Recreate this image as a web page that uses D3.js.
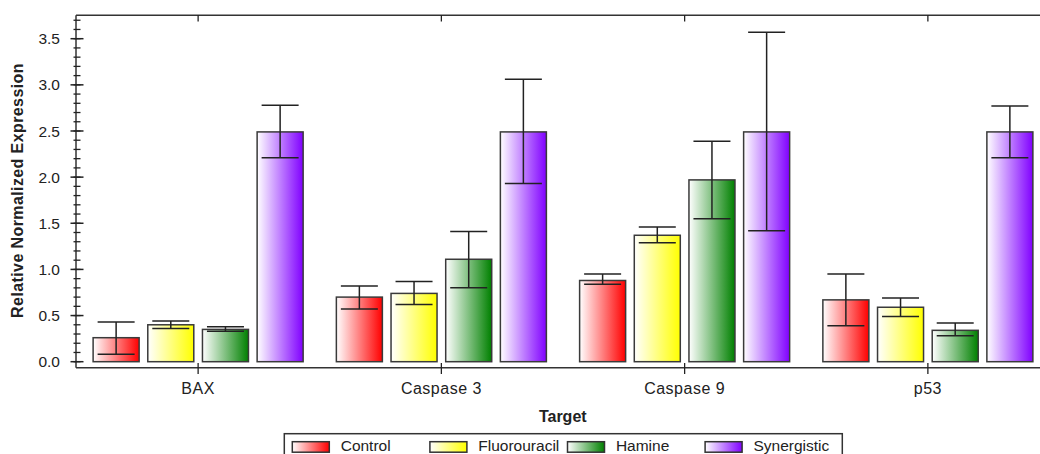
<!DOCTYPE html>
<html>
<head>
<meta charset="utf-8">
<script src="https://cdn.jsdelivr.net/npm/d3@7"></script>
<style>
  body { margin: 0; background: #fff; }
  svg { display: block; }
  text { font-family: Arial, "Liberation Sans", sans-serif; fill: #222; }
</style>
</head>
<body>
<svg id="chart" width="1040" height="454"></svg>
<script>
// Relative normalized expression per target gene and treatment
const targets = ["BAX", "Caspase 3", "Caspase 9", "p53"];
const treatments = ["Control", "Fluorouracil", "Hamine", "Synergistic"];
const seriesColors = ["#ff0000", "#ffff00", "#008000", "#8000ff"];

// Mean expression per target (same order as targets)
const controlValues      = [0.26, 0.70, 0.88, 0.67];
const fluorouracilValues = [0.40, 0.74, 1.37, 0.59];
const hamineValues       = [0.35, 1.11, 1.97, 0.34];
const synergisticValues  = [2.49, 2.49, 2.49, 2.49];

// Error bar upper ends
const controlUpper      = [0.43, 0.82, 0.95, 0.95];
const fluorouracilUpper = [0.44, 0.87, 1.46, 0.69];
const hamineUpper       = [0.38, 1.41, 2.39, 0.42];
const synergisticUpper  = [2.78, 3.06, 3.57, 2.77];

// Error bar lower ends
const controlLower      = [0.08, 0.57, 0.84, 0.39];
const fluorouracilLower = [0.36, 0.62, 1.29, 0.49];
const hamineLower       = [0.33, 0.80, 1.55, 0.28];
const synergisticLower  = [2.21, 1.93, 1.42, 2.21];

const yMajorTicks = [0, 0.5, 1.0, 1.5, 2.0, 2.5, 3.0, 3.5];
const yMinorTicks = d3.range(0, 38).map(i => i / 10);

const meanSeries  = [controlValues, fluorouracilValues, hamineValues, synergisticValues];
const upperSeries = [controlUpper, fluorouracilUpper, hamineUpper, synergisticUpper];
const lowerSeries = [controlLower, fluorouracilLower, hamineLower, synergisticLower];

const records = [];
targets.forEach((t, ti) => {
  treatments.forEach((s, si) => {
    records.push({
      target: t, treatment: s, si,
      value: meanSeries[si][ti],
      upper: upperSeries[si][ti],
      lower: lowerSeries[si][ti]
    });
  });
});

const svg = d3.select("#chart");

// Plot frame
const frame = { left: 76, top: 15.3, right: 1049.5, bottom: 367.7 };

const x0 = d3.scaleBand().domain(targets).range([76.5, 1049.5]).padding(0);
const x1 = d3.scaleBand().domain(treatments)
  .range([0, x0.bandwidth()])
  .paddingInner(0.1585)
  .paddingOuter(0.304);
const y = d3.scaleLinear().domain([0, 3.5]).range([361.7, 38.7]);

// Horizontal gradients (white to full colour) for each treatment
const defs = svg.append("defs");
treatments.forEach((s, i) => {
  const g = defs.append("linearGradient")
    .attr("id", "grad" + i)
    .attr("x1", "0%").attr("x2", "100%").attr("y1", "0%").attr("y2", "0%");
  g.append("stop").attr("offset", "0%").attr("stop-color", "#ffffff");
  g.append("stop").attr("offset", "100%").attr("stop-color", seriesColors[i]);
});

// Frame lines: left axis, top edge, bottom axis
const frameColor = "#333";
svg.append("line")
  .attr("x1", frame.left).attr("x2", frame.left)
  .attr("y1", frame.top).attr("y2", frame.bottom)
  .attr("stroke", frameColor).attr("stroke-width", 1.5);
svg.append("line")
  .attr("x1", frame.left).attr("x2", frame.right)
  .attr("y1", frame.top).attr("y2", frame.top)
  .attr("stroke", frameColor).attr("stroke-width", 1.5);
svg.append("line")
  .attr("x1", frame.left).attr("x2", frame.right)
  .attr("y1", frame.bottom).attr("y2", frame.bottom)
  .attr("stroke", frameColor).attr("stroke-width", 1.5);

// Y axis ticks crossing the axis line
const yAxisG = svg.append("g");
yAxisG.selectAll("line.minor")
  .data(yMinorTicks)
  .join("line")
  .attr("class", "minor")
  .attr("x1", 73.5).attr("x2", 80.5)
  .attr("y1", d => y(d)).attr("y2", d => y(d))
  .attr("stroke", "#222").attr("stroke-width", 1.3);
yAxisG.selectAll("line.major")
  .data(yMajorTicks)
  .join("line")
  .attr("class", "major")
  .attr("x1", 70.5).attr("x2", 83.5)
  .attr("y1", d => y(d)).attr("y2", d => y(d))
  .attr("stroke", "#222").attr("stroke-width", 1.5);
yAxisG.selectAll("text")
  .data(yMajorTicks)
  .join("text")
  .attr("x", 60)
  .attr("y", d => y(d))
  .attr("dy", "0.36em")
  .attr("text-anchor", "end")
  .attr("font-size", 15.5)
  .text(d3.format(".1f"));

// X axis ticks at category centres (bottom and top edges)
const xAxisG = svg.append("g");
xAxisG.selectAll("line.bottom")
  .data(targets)
  .join("line")
  .attr("class", "bottom")
  .attr("x1", d => x0(d) + x0.bandwidth() / 2)
  .attr("x2", d => x0(d) + x0.bandwidth() / 2)
  .attr("y1", 363).attr("y2", 374)
  .attr("stroke", "#222").attr("stroke-width", 1.3);
xAxisG.selectAll("line.top")
  .data(targets)
  .join("line")
  .attr("class", "top")
  .attr("x1", d => x0(d) + x0.bandwidth() / 2)
  .attr("x2", d => x0(d) + x0.bandwidth() / 2)
  .attr("y1", 15).attr("y2", 21.5)
  .attr("stroke", "#222").attr("stroke-width", 1.3);
xAxisG.selectAll("text")
  .data(targets)
  .join("text")
  .attr("x", d => x0(d) + x0.bandwidth() / 2)
  .attr("y", 394.3)
  .attr("text-anchor", "middle")
  .attr("font-size", 16)
  .attr("letter-spacing", 0.5)
  .text(d => d);

// Bars
const barsG = svg.append("g");
barsG.selectAll("rect")
  .data(records)
  .join("rect")
  .attr("x", d => x0(d.target) + x1(d.treatment))
  .attr("y", d => y(d.value))
  .attr("width", x1.bandwidth())
  .attr("height", d => y(0) - y(d.value))
  .attr("fill", d => `url(#grad${d.si})`)
  .attr("stroke", "#3a3a3a")
  .attr("stroke-width", 1.5);

// Error bars
const capHalf = 18.5;
const errG = svg.append("g")
  .attr("stroke", "#222").attr("stroke-width", 1.5);
const eb = errG.selectAll("g")
  .data(records)
  .join("g")
  .attr("transform", d => `translate(${x0(d.target) + x1(d.treatment) + x1.bandwidth() / 2},0)`);
eb.append("line")
  .attr("x1", 0).attr("x2", 0)
  .attr("y1", d => y(d.lower)).attr("y2", d => y(d.upper));
eb.append("line")
  .attr("x1", -capHalf).attr("x2", capHalf)
  .attr("y1", d => y(d.upper)).attr("y2", d => y(d.upper));
eb.append("line")
  .attr("x1", -capHalf).attr("x2", capHalf)
  .attr("y1", d => y(d.lower)).attr("y2", d => y(d.lower));

// Axis titles
svg.append("text")
  .attr("x", (frame.left + frame.right) / 2)
  .attr("y", 421.7)
  .attr("text-anchor", "middle")
  .attr("font-size", 16)
  .attr("font-weight", "bold")
  .text("Target");

svg.append("text")
  .attr("transform", "translate(23.2,190.5) rotate(-90)")
  .attr("text-anchor", "middle")
  .attr("font-size", 16)
  .attr("font-weight", "bold")
  .attr("letter-spacing", 0.4)
  .text("Relative Normalized Expression");

// Legend
const legend = svg.append("g");
legend.append("rect")
  .attr("x", 284.3).attr("y", 433.7)
  .attr("width", 558).attr("height", 40)
  .attr("fill", "#fff")
  .attr("stroke", "#333").attr("stroke-width", 1.5);
const items = legend.selectAll("g.item")
  .data(treatments)
  .join("g")
  .attr("class", "item")
  .attr("transform", (d, i) => `translate(${292.3 + i * 137.6},0)`);
items.append("rect")
  .attr("x", 0).attr("y", 441.7)
  .attr("width", 37).attr("height", 10.5)
  .attr("fill", (d, i) => `url(#grad${i})`)
  .attr("stroke", "#333").attr("stroke-width", 1.5);
items.append("text")
  .attr("x", 48.4).attr("y", 450.7)
  .attr("font-size", 15.5)
  .text(d => d);
</script>
</body>
</html>
